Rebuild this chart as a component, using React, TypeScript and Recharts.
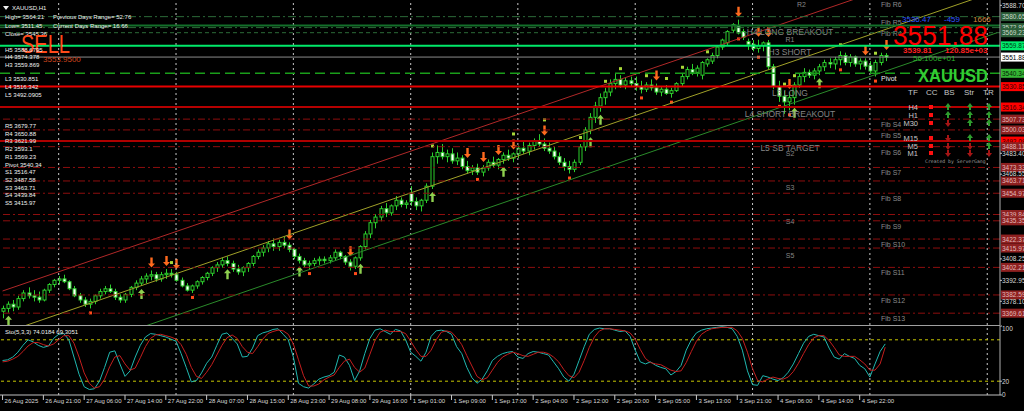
import React from 'react';
import { ComposedChart, Bar, Line, XAxis, YAxis, ReferenceLine } from 'recharts';

// XAUUSD H1, 26 Aug 2025 13:00 .. 5 Sep 2025 04:00 — [open, high, low, close]
type Candle = [number, number, number, number];

const aug26: Candle[] = [
    [3371, 3375, 3366, 3373], [3373, 3378, 3370, 3376], [3376, 3379, 3371, 3374], [3374, 3382, 3372, 3380],
    [3380, 3386, 3378, 3384], [3384, 3388, 3380, 3382], [3382, 3386, 3378, 3381], [3381, 3385, 3377, 3379],
    [3379, 3387, 3378, 3386], [3386, 3391, 3384, 3390], [3390, 3394, 3388, 3393],
];
const aug27: Candle[] = [
    [3393, 3396, 3390, 3394], [3394, 3397, 3391, 3392], [3392, 3393, 3386, 3387], [3387, 3389, 3381, 3382],
    [3382, 3384, 3377, 3379], [3379, 3381, 3374, 3376], [3376, 3380, 3373, 3378], [3378, 3383, 3376, 3382],
    [3382, 3387, 3380, 3385], [3385, 3389, 3383, 3387], [3387, 3390, 3384, 3385], [3385, 3387, 3379, 3381],
    [3381, 3383, 3377, 3379], [3379, 3384, 3377, 3383], [3383, 3389, 3381, 3388], [3388, 3393, 3386, 3391],
    [3391, 3396, 3389, 3394], [3394, 3398, 3391, 3396], [3396, 3400, 3393, 3397], [3397, 3399, 3392, 3394],
    [3394, 3399, 3392, 3397], [3397, 3401, 3394, 3398], [3398, 3401, 3395, 3397],
];
const aug28: Candle[] = [
    [3397, 3399, 3392, 3393], [3393, 3395, 3388, 3389], [3389, 3391, 3385, 3386], [3386, 3390, 3384, 3389],
    [3389, 3393, 3387, 3392], [3392, 3396, 3390, 3395], [3395, 3399, 3393, 3398], [3398, 3403, 3396, 3402],
    [3402, 3406, 3399, 3404], [3404, 3409, 3402, 3407], [3407, 3410, 3403, 3405], [3405, 3407, 3399, 3401],
    [3401, 3404, 3397, 3399], [3399, 3403, 3396, 3402], [3402, 3406, 3399, 3405], [3405, 3411, 3403, 3410],
    [3410, 3415, 3408, 3413], [3413, 3418, 3410, 3416], [3416, 3421, 3413, 3419], [3419, 3423, 3414, 3417],
    [3417, 3422, 3414, 3420], [3420, 3424, 3416, 3418], [3418, 3420, 3413, 3415],
];
const aug29: Candle[] = [
    [3415, 3416, 3408, 3410], [3410, 3412, 3405, 3407], [3407, 3409, 3402, 3404], [3404, 3407, 3401, 3405],
    [3405, 3409, 3403, 3407], [3407, 3410, 3404, 3408], [3408, 3410, 3405, 3407], [3407, 3411, 3405, 3409],
    [3409, 3415, 3407, 3413], [3413, 3414, 3408, 3410], [3410, 3411, 3404, 3406], [3406, 3408, 3400, 3403],
    [3403, 3410, 3401, 3409], [3409, 3418, 3407, 3417], [3417, 3428, 3415, 3426], [3426, 3436, 3423, 3434],
    [3434, 3440, 3430, 3438], [3438, 3446, 3435, 3444], [3444, 3448, 3438, 3441], [3441, 3447, 3439, 3446],
    [3446, 3453, 3443, 3450], [3450, 3452, 3445, 3447], [3447, 3450, 3444, 3448],
];
const sep1: Candle[] = [
    [3455, 3460, 3446, 3449], [3449, 3452, 3443, 3446], [3446, 3451, 3442, 3450], [3450, 3462, 3448, 3460],
    [3460, 3484, 3458, 3481], [3481, 3489, 3476, 3484], [3484, 3490, 3479, 3481], [3481, 3486, 3477, 3483],
    [3483, 3487, 3476, 3478], [3478, 3484, 3475, 3480], [3480, 3482, 3472, 3474], [3474, 3478, 3469, 3471],
    [3471, 3475, 3468, 3473], [3473, 3476, 3468, 3470], [3470, 3475, 3467, 3473], [3473, 3479, 3471, 3477],
    [3477, 3481, 3473, 3475], [3475, 3480, 3472, 3479], [3479, 3484, 3476, 3482], [3482, 3486, 3478, 3480],
    [3480, 3484, 3477, 3483],
];
const sep2: Candle[] = [
    [3483, 3489, 3480, 3487], [3487, 3492, 3483, 3485], [3485, 3491, 3482, 3489], [3489, 3494, 3486, 3492],
    [3492, 3497, 3488, 3490], [3490, 3494, 3485, 3487], [3487, 3491, 3483, 3485], [3485, 3488, 3479, 3481],
    [3481, 3484, 3475, 3477], [3477, 3480, 3471, 3474], [3474, 3478, 3469, 3472], [3472, 3479, 3470, 3477],
    [3477, 3490, 3475, 3488], [3488, 3502, 3485, 3500], [3500, 3512, 3497, 3509], [3509, 3520, 3505, 3517],
    [3517, 3526, 3513, 3523], [3523, 3530, 3518, 3527], [3527, 3536, 3524, 3533], [3533, 3540, 3529, 3536],
    [3536, 3539, 3530, 3532], [3532, 3537, 3529, 3535], [3535, 3538, 3531, 3533],
];
const sep3: Candle[] = [
    [3533, 3538, 3528, 3531], [3531, 3535, 3526, 3529], [3529, 3534, 3527, 3532], [3532, 3536, 3528, 3530],
    [3530, 3533, 3525, 3527], [3527, 3531, 3524, 3529], [3529, 3532, 3525, 3526], [3526, 3530, 3523, 3528],
    [3528, 3534, 3527, 3533], [3533, 3540, 3531, 3538], [3538, 3545, 3536, 3543], [3543, 3547, 3539, 3541],
    [3541, 3546, 3538, 3544], [3539, 3549, 3536, 3548], [3547, 3551, 3545, 3550], [3549, 3555, 3547, 3553],
    [3553, 3560, 3551, 3559], [3559, 3565, 3557, 3564], [3562, 3571, 3560, 3570], [3571, 3576, 3569, 3575],
    [3574, 3578.5, 3568, 3569], [3570, 3572, 3564, 3566], [3563, 3565, 3557, 3561],
];
const sep4: Candle[] = [
    [3561, 3564, 3556, 3558], [3558, 3564.2, 3555, 3560], [3560, 3563, 3556, 3562], [3562, 3564, 3543, 3545],
    [3545, 3547, 3529, 3531], [3531, 3535, 3520, 3524], [3524, 3528, 3511.5, 3520], [3520, 3527, 3514, 3523],
    [3523, 3534, 3518, 3532], [3532, 3540, 3530, 3538], [3538, 3544, 3534, 3541], [3541, 3543, 3537, 3539],
    [3539, 3544, 3536, 3542], [3542, 3547, 3539, 3545], [3545, 3550, 3542, 3548], [3548, 3551, 3544, 3547],
    [3547, 3552, 3543, 3550], [3550, 3556, 3546, 3553], [3553, 3555, 3546, 3548], [3548, 3554, 3545, 3552],
    [3552, 3553, 3545, 3547], [3547, 3551, 3543, 3549], [3549, 3551, 3543, 3545.36],
];
const sep5: Candle[] = [
    [3546, 3549, 3540, 3542], [3542, 3550, 3538, 3548], [3548, 3555, 3546, 3553], [3553, 3554.7, 3549, 3551.88],
];

// Stochastic(5,3,3): main (%K) and signal (%D)
const stochK = [
    50, 51, 55, 62, 72, 80, 77, 72, 69, 71, 82, 88, 89, 80, 55, 30, 12, 8, 9, 20,
    40, 62, 64, 45, 27, 35, 55, 72, 84, 89, 88, 86, 84, 81, 78, 60, 40, 19, 21, 32,
    46, 55, 72, 88, 90, 82, 74, 55, 56, 68, 86, 90, 92, 95, 96, 88, 80, 55, 17, 12,
    10, 16, 23, 26, 28, 33, 58, 55, 43, 21, 35, 60, 82, 94, 96, 92, 88, 95, 93, 80,
    62, 56, 49, 62, 85, 93, 94, 92, 88, 70, 60, 40, 25, 17, 23, 35, 50, 56, 60, 62,
    63, 55, 53, 60, 63, 62, 60, 58, 48, 38, 26, 20, 30, 50, 70, 88, 95, 97, 96, 96,
    94, 92, 93, 85, 65, 48, 45, 48, 43, 40, 38, 29, 34, 43, 65, 80, 90, 94, 96, 97,
    98, 99, 98, 96, 85, 65, 35, 15, 14, 28, 26, 23, 21, 25, 33, 45, 60, 75, 85, 88,
    86, 84, 68, 55, 52, 60, 56, 53, 43, 38, 26, 45, 63, 74.02,
];
const stochD = [
    48, 49, 52, 56, 63, 71, 76, 76, 73, 71, 74, 80, 86, 86, 75, 55, 32, 17, 10, 12,
    23, 41, 55, 57, 45, 36, 39, 54, 70, 82, 87, 88, 86, 84, 81, 73, 59, 40, 27, 24,
    33, 44, 58, 72, 83, 87, 82, 70, 62, 60, 70, 81, 89, 92, 94, 93, 88, 74, 51, 28,
    13, 13, 16, 22, 26, 29, 40, 49, 52, 40, 33, 39, 59, 79, 91, 94, 92, 92, 92, 89,
    78, 66, 56, 56, 65, 80, 91, 93, 91, 83, 73, 57, 42, 27, 22, 25, 36, 47, 55, 59,
    62, 60, 57, 56, 59, 62, 62, 60, 55, 48, 37, 28, 25, 33, 50, 69, 84, 93, 96, 96,
    95, 94, 93, 90, 81, 66, 53, 47, 45, 44, 40, 36, 34, 35, 47, 63, 78, 88, 93, 96,
    97, 98, 98, 98, 93, 82, 62, 38, 21, 19, 23, 26, 24, 23, 26, 34, 46, 60, 73, 83,
    86, 86, 79, 69, 58, 56, 56, 56, 51, 45, 36, 36, 45, 69.31,
];

// time axis
const tickIdx = [0, 8, 16, 24, 32, 40, 48, 56, 64, 72, 80, 88, 96, 104, 112, 120, 128, 136, 144, 152, 160, 168];
const tickLabels = [
    '26 Aug 2025', '26 Aug 21:00', '27 Aug 06:00', '27 Aug 14:00', '27 Aug 22:00', '28 Aug 07:00',
    '28 Aug 15:00', '28 Aug 23:00', '29 Aug 08:00', '29 Aug 16:00', '1 Sep 01:00', '1 Sep 09:00',
    '1 Sep 17:00', '2 Sep 04:00', '2 Sep 12:00', '2 Sep 20:00', '3 Sep 05:00', '3 Sep 13:00',
    '3 Sep 21:00', '4 Sep 06:00', '4 Sep 14:00', '4 Sep 22:00',
];
const daySeparators = [11, 34, 57, 80, 101, 124, 147, 170, 193];
const SLOTS = 196; // bars + empty chart shift on the right

// signal arrows and dots
const sellIdx = [29, 32, 34, 56, 68, 91, 94, 97, 100, 106, 128, 144, 148, 150, 154, 169, 173];
const buyIdx = [1, 27, 44, 58, 70, 84, 98, 115, 117, 155, 160];
const dotHiIdx = [33, 84, 100, 106, 113, 118, 121, 126, 130, 133, 138, 153, 155, 164, 171];
const dotLoIdx = [1, 17, 37, 60, 69, 93, 111, 125, 131, 144, 148, 152, 154, 164, 171];

// regression channel: upper, middle, lower at first and last slot
const channelFrom = [3385.4, 3355.2, 3325.5];
const channelTo = [3628.0, 3599.0, 3569.3];
const channelColors = ['#b02828', '#a0a028', '#2a8a2a'];

// horizontal levels
const levelPrices = [
    3580.65, 3574.38, 3572.86, 3569.23, 3559.87, 3551.88, 3540.34, 3530.85, 3516.34, 3507.73, 3500.03, 3492.09,
    3488.11, 3473.33, 3463.71, 3454.97, 3439.84, 3435.35, 3422.37, 3415.97, 3402.21, 3382.59, 3369.61,
];
const levelKinds = [
    'fibR', 'h4', 'fibR', 'r1', 'h3', 'bid', 'pivot', 'l3', 'l4', 'fibS', 'fibS', 'l5',
    'fibS', 'fibS', 'fibS', 'fibS', 'fibS', 'fibS', 'fibS', 'fibS', 'fibS', 'fibS', 'fibS',
];
const levelNotes = [
    '', 'H4 LONG BREAKOUT', '', 'R1', 'H3 SHORT', '', '', 'L3 LONG', 'L4 SHORT BREAKOUT', '', '', 'L5 SB TARGET',
    'S2', '', 'S3', '', 'S4', '', '', 'S5', '', '', '',
];
const levelFibs = [
    'Fib R5', '', 'Fib R4', '', '', '', 'Pivot', '', '', 'Fib S4', 'Fib S5', '',
    'Fib S6', 'Fib S7', '', 'Fib S8', '', 'Fib S9', 'Fib S10', '', 'Fib S11', 'Fib S12', 'Fib S13',
];
const axisTicks = [3363.25, 3378.1, 3392.95, 3408.25, 3468.55, 3483.4, 3588.7];

const pivotLines = [
    'H5 3588.6795', 'H4 3574.378', 'H3 3559.869', 'L3 3530.851', 'L4 3516.342', 'L5 3492.0905',
];
const pivotTable = [
    'R5 3679.77', 'R4 3650.88', 'R3 3621.99', 'R2 3593.1', 'R1 3569.23', 'Pivot 3540.34',
    'S1 3516.47', 'S2 3487.58', 'S3 3463.71', 'S4 3439.84', 'S5 3415.97',
];
const tfRows = ['H4', 'H1', 'M30', 'M15', 'M5', 'M1'];
const tfBs = [1, 1, 0, 0, 0, 0];
const tfStr = [1, 1, 1, 1, 0, 0];
const tfTr = [1, 1, 1, 1, 1, 0];

const FONT = 'Liberation Sans, Arial, sans-serif';
const PRICE_DOMAIN: [number, number] = [3361.2, 3592.5];

type Style = { stroke: string; dash?: string; width: number; tagBg?: string; tagFg?: string };
const levelStyle: Record<string, Style> = {
    fibR: { stroke: '#2c6a38', dash: '8 3 2 3', width: 1, tagBg: '#2b5d38', tagFg: '#c8d8c8' },
    h4: { stroke: '#13702a', width: 2 },
    r1: { stroke: '#2c6a38', dash: '4 3', width: 1, tagBg: '#2b5d38', tagFg: '#c8d8c8' },
    h3: { stroke: '#00e86a', width: 2, tagBg: '#00ee6e', tagFg: '#003812' },
    bid: { stroke: '#8a8a8a', width: 1, tagBg: '#ffffff', tagFg: '#000000' },
    pivot: { stroke: '#1a9e1a', dash: '10 5', width: 1.5, tagBg: '#35b535', tagFg: '#062006' },
    l3: { stroke: '#e80000', width: 2, tagBg: '#ff0000', tagFg: '#3a0000' },
    l4: { stroke: '#b40000', width: 2, tagBg: '#ff0000', tagFg: '#3a0000' },
    l5: { stroke: '#b00000', width: 2, tagBg: '#ff0000', tagFg: '#3a0000' },
    fibS: { stroke: '#8e0e0e', dash: '7 3 2 3', width: 1, tagBg: '#8e2020', tagFg: '#e0b8b8' },
};

const candles: Candle[] = [aug26, aug27, aug28, aug29, sep1, sep2, sep3, sep4, sep5].flat();

const rows = Array.from({ length: SLOTS }, (_, i) => {
    const cd = candles[i];
    if (!cd) return { i };
    return {
        i,
        o: cd[0],
        h: cd[1],
        l: cd[2],
        c: cd[3],
        k: stochK[i],
        d: stochD[i],
        sell: sellIdx.includes(i),
        buy: buyIdx.includes(i),
        dotHi: dotHiIdx.includes(i),
        dotLo: dotLoIdx.includes(i),
    };
});

const CandleShape = (props: any) => {
    const { x, width, payload } = props;
    let { y, height } = props;
    if (!payload || payload.c == null || !isFinite(y) || !isFinite(height)) return null;
    if (height < 0) {
        y += height;
        height = -height;
    }
    const { o, h, l, c } = payload;
    const k = h > l ? height / (h - l) : 0;
    const cx = Math.round(x + width / 2) + 0.5;
    const yo = y + (h - o) * k;
    const yc = y + (h - c) * k;
    const top = Math.min(yo, yc);
    const bh = Math.max(1, Math.abs(yc - yo));
    const bull = c >= o;
    const green = '#2ccf2c';
    const yl = y + height;
    const hiOff = payload.sell ? 17 : 5;
    const loOff = payload.buy ? 15 : 3;
    return (
        <g>
            <line x1={cx} x2={cx} y1={y} y2={yl} stroke={green} strokeWidth={1} />
            <rect x={cx - 1.5} y={top} width={3} height={bh} fill={bull ? '#000' : '#fff'} stroke={green} strokeWidth={1} />
            {payload.sell && (
                <polygon
                    points={`${cx},${y - 3} ${cx - 3.5},${y - 7} ${cx - 1.2},${y - 7} ${cx - 1.2},${y - 13} ${cx + 1.2},${y - 13} ${cx + 1.2},${y - 7} ${cx + 3.5},${y - 7}`}
                    fill="#ff6a1e"
                />
            )}
            {payload.buy && (
                <polygon
                    points={`${cx},${yl + 3} ${cx - 3.5},${yl + 7} ${cx - 1.2},${yl + 7} ${cx - 1.2},${yl + 13} ${cx + 1.2},${yl + 13} ${cx + 1.2},${yl + 7} ${cx + 3.5},${yl + 7}`}
                    fill="#8fd14f"
                />
            )}
            {payload.dotHi && <rect x={cx - 1.5} y={y - hiOff - 3} width={3} height={3} fill="#a8d838" />}
            {payload.dotLo && <rect x={cx - 1.5} y={yl + loOff} width={3} height={3} fill="#ff4a1a" />}
        </g>
    );
};

const LevelLabel = (props: any) => {
    const { viewBox, idx } = props;
    if (!viewBox) return null;
    const st = levelStyle[levelKinds[idx]];
    const yv = viewBox.y;
    const right = viewBox.x + viewBox.width;
    const note = levelNotes[idx];
    const fib = levelFibs[idx];
    return (
        <g fontFamily={FONT}>
            {st.tagBg && <rect x={right + 1} y={yv - 4.5} width={24} height={9} fill={st.tagBg} />}
            {st.tagBg && (
                <text x={right + 2} y={yv + 2.5} fontSize={6.5} fill={st.tagFg}>
                    {levelPrices[idx].toFixed(2)}
                </text>
            )}
            {note && (
                <text x={790} y={yv + 9.5} fontSize={note.length > 3 ? 8.5 : 7} fill="#858585" textAnchor="middle">
                    {note}
                </text>
            )}
            {fib && (
                <text x={881} y={yv + 8} fontSize={7} fill={fib === 'Pivot' ? '#e8e8e8' : '#8a8a8a'}>
                    {fib}
                </text>
            )}
        </g>
    );
};

const TimeTick = (props: any) => {
    const { x, y, payload } = props;
    const n = tickIdx.indexOf(payload.value);
    if (n < 0) return null;
    return (
        <g>
            <line x1={x} x2={x} y1={y} y2={y + 5} stroke="#c8c8c8" />
            <text x={x + 2} y={y + 8} fontSize={6} fill="#d8d8d8" fontFamily={FONT}>
                {tickLabels[n]}
            </text>
        </g>
    );
};

const Arrow = ({ x, y, up }: { x: number; y: number; up: boolean }) => {
    const s = up ? 1 : -1;
    return (
        <polygon
            points={`${x},${y - 4 * s} ${x - 3},${y} ${x - 1},${y} ${x - 1},${y + 3 * s} ${x + 1},${y + 3 * s} ${x + 1},${y} ${x + 3},${y}`}
            fill={up ? '#2e9e2e' : '#a51515'}
        />
    );
};

const Overlay = () => {
    const t = { fontFamily: FONT, fontSize: 6, fill: '#f0f0f0' } as const;
    const tfY = [107, 115, 123, 138, 146, 153];
    return (
        <svg width={1024} height={411} style={{ position: 'absolute', left: 0, top: 0, pointerEvents: 'none' }}>
            <line x1={0} x2={1000} y1={325.5} y2={325.5} stroke="#a0a0a0" />
            <polygon points="3,6 9,6 6,10" fill="#f0f0f0" />
            <text x={12} y={10} {...t}>XAUUSD,H1</text>
            <text x={5} y={19} {...t}>High= 3564.21</text>
            <text x={53} y={19} {...t}>Previous Days Range= 52.76</text>
            <text x={5} y={28} {...t}>Low= 3511.45</text>
            <text x={53} y={28} {...t}>Current Days Range= 16.66</text>
            <text x={5} y={36} {...t}>Close= 3545.36</text>
            <text x={21} y={53} fontFamily={FONT} fontSize={25} fill="#ff4a1a" textLength={49} lengthAdjust="spacingAndGlyphs">SELL</text>
            <text x={43} y={62} fontFamily={FONT} fontSize={8} fill="#d2461e">3553.9500</text>
            {pivotLines.map((s, n) => (
                <text key={s} x={5} y={[51.5, 59, 66.5, 81, 89, 97][n]} {...t}>{s}</text>
            ))}
            {pivotTable.map((s, n) => (
                <text key={s} x={5} y={128 + n * 7.7} {...t}>{s}</text>
            ))}
            <text x={797} y={7} fontFamily={FONT} fontSize={7} fill="#858585">R2</text>
            <text x={881} y={7} fontFamily={FONT} fontSize={7} fill="#8a8a8a">Fib R6</text>
            <text x={902} y={22} fontFamily={FONT} fontSize={8} fill="#2f55ff">3536.47</text>
            <text x={944} y={22} fontFamily={FONT} fontSize={8} fill="#2f55ff">-459</text>
            <text x={973} y={22} fontFamily={FONT} fontSize={8} fill="#d2873c">1666</text>
            <text x={893} y={45} fontFamily={FONT} fontSize={27} fill="#ff0000" textLength={95} lengthAdjust="spacingAndGlyphs">3551.88</text>
            <text x={903} y={53} fontFamily={FONT} fontSize={8} fontWeight="bold" fill="#ff2020">3539.81</text>
            <text x={945} y={53} fontFamily={FONT} fontSize={8} fontWeight="bold" fill="#ff2020">120.85e+03</text>
            <text x={913} y={61} fontFamily={FONT} fontSize={8} fill="#2cb42c">56.100e+01</text>
            <text x={918} y={82} fontFamily={FONT} fontSize={19} fontWeight="bold" fill="#33cc33" textLength={70} lengthAdjust="spacingAndGlyphs">XAUUSD</text>
            {['TF', 'CC', 'BS', 'Str', 'TR'].map((s, n) => (
                <text key={s} x={[908, 926, 944, 964, 983][n]} y={95} fontFamily={FONT} fontSize={8} fill="#c8c8c8">{s}</text>
            ))}
            {tfRows.map((s, n) => (
                <g key={s}>
                    <text x={918} y={tfY[n] + 3} fontFamily={FONT} fontSize={7.5} fill="#c8c8c8" textAnchor="end">{s}</text>
                    <rect x={929} y={tfY[n] - 2} width={4} height={4} fill="#ff1010" />
                    <Arrow x={948} y={tfY[n]} up={!!tfBs[n]} />
                    <Arrow x={970} y={tfY[n]} up={!!tfStr[n]} />
                    <Arrow x={989} y={tfY[n]} up={!!tfTr[n]} />
                </g>
            ))}
            <text x={925} y={163} fontFamily="DejaVu Sans Mono, monospace" fontSize={4.8} fill="#9a9a9a">Created by ServerGang</text>
            <text x={5} y={334} {...t}>Sto(5,3,3) 74.0184 69.3051</text>
        </svg>
    );
};

export default function App() {
    return (
        <div style={{ position: 'absolute', left: 0, top: 0, width: 1024, height: 411, background: '#000', overflow: 'hidden' }}>
            <div style={{ position: 'absolute', left: 0, top: 0 }}>
                <ComposedChart width={1024} height={325} data={rows} margin={{ top: 0, right: 0, bottom: 0, left: 0 }} barCategoryGap={0}>
                    <XAxis dataKey="i" type="category" scale="band" hide />
                    <YAxis
                        orientation="right"
                        width={24}
                        domain={PRICE_DOMAIN}
                        allowDataOverflow
                        ticks={axisTicks}
                        tickFormatter={(v: number) => v.toFixed(2)}
                        tick={{ fontSize: 6.5, fill: '#d8d8d8', fontFamily: FONT }}
                        tickSize={2}
                        tickMargin={0}
                        tickLine={{ stroke: '#c0c0c0' }}
                        axisLine={{ stroke: '#b0b0b0' }}
                    />
                    {daySeparators.map((d) => (
                        <ReferenceLine key={`sep${d}`} x={d} stroke="#c8c8c8" strokeDasharray="2 3" />
                    ))}
                    {channelFrom.map((v, n) => (
                        <ReferenceLine
                            key={`ch${n}`}
                            ifOverflow="hidden"
                            stroke={channelColors[n]}
                            segment={[{ x: 0, y: v }, { x: SLOTS - 1, y: channelTo[n] }]}
                        />
                    ))}
                    {levelPrices.map((p, n) => {
                        const st = levelStyle[levelKinds[n]];
                        return (
                            <ReferenceLine
                                key={`lv${n}`}
                                y={p}
                                stroke={st.stroke}
                                strokeWidth={st.width}
                                strokeDasharray={st.dash}
                                label={<LevelLabel idx={n} />}
                            />
                        );
                    })}
                    <Bar
                        dataKey={(r: any) => (r.c == null ? null : [r.l, r.h])}
                        barSize={4}
                        shape={<CandleShape />}
                        isAnimationActive={false}
                    />
                </ComposedChart>
            </div>
            <div style={{ position: 'absolute', left: 0, top: 325 }}>
                <ComposedChart width={1024} height={86} data={rows} margin={{ top: 1, right: 0, bottom: 0, left: 0 }}>
                    <XAxis
                        dataKey="i"
                        type="category"
                        scale="band"
                        ticks={tickIdx}
                        interval={0}
                        height={16}
                        tickLine={false}
                        tickSize={0}
                        tickMargin={0}
                        axisLine={{ stroke: '#c0c0c0' }}
                        tick={<TimeTick />}
                    />
                    <YAxis
                        orientation="right"
                        width={24}
                        domain={[0, 100]}
                        ticks={[0, 20, 80, 100]}
                        tick={{ fontSize: 6.5, fill: '#d8d8d8', fontFamily: FONT }}
                        tickSize={2}
                        tickMargin={0}
                        tickLine={{ stroke: '#c0c0c0' }}
                        axisLine={{ stroke: '#b0b0b0' }}
                    />
                    {daySeparators.map((d) => (
                        <ReferenceLine key={`osep${d}`} x={d} stroke="#c8c8c8" strokeDasharray="2 3" />
                    ))}
                    <ReferenceLine y={80} stroke="#c8c800" strokeDasharray="3 3" />
                    <ReferenceLine y={20} stroke="#c8c800" strokeDasharray="3 3" />
                    <Line dataKey="k" stroke="#20b8b0" dot={false} strokeWidth={1} isAnimationActive={false} />
                    <Line dataKey="d" stroke="#c41e1e" dot={false} strokeWidth={1} isAnimationActive={false} />
                </ComposedChart>
            </div>
            <Overlay />
        </div>
    );
}
